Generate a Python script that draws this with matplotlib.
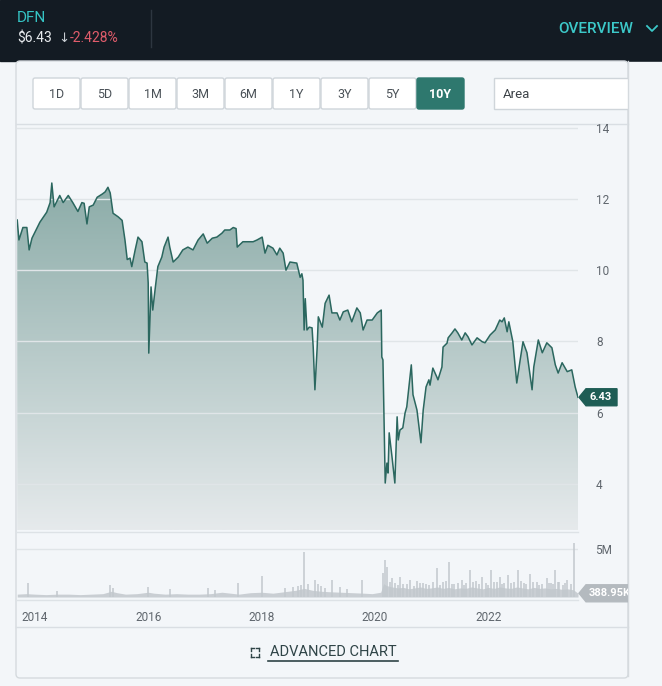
import matplotlib.pyplot as plt
import numpy as np
from matplotlib.colors import LinearSegmentedColormap
from matplotlib.patches import FancyBboxPatch, Polygon, Rectangle

W, H = 662, 686

# Daily close (decimal year, USD).
price_years = [
    2013.69, 2013.72, 2013.79, 2013.86, 2013.90, 2013.95, 2014.09, 2014.21, 2014.27, 2014.30,
    2014.34, 2014.44, 2014.50, 2014.59, 2014.67, 2014.76, 2014.83, 2014.87, 2014.92, 2014.96,
    2015.03, 2015.10, 2015.19, 2015.24, 2015.29, 2015.33, 2015.38, 2015.47, 2015.54, 2015.59,
    2015.63, 2015.68, 2015.71, 2015.77, 2015.82, 2015.89, 2015.94, 2015.98, 2016.00, 2016.01,
    2016.05, 2016.08, 2016.12, 2016.17, 2016.24, 2016.28, 2016.35, 2016.38, 2016.44, 2016.53,
    2016.61, 2016.70, 2016.79, 2016.88, 2016.97, 2017.04, 2017.13, 2017.21, 2017.30, 2017.35,
    2017.44, 2017.50, 2017.55, 2017.57, 2017.67, 2017.76, 2017.85, 2017.92, 2018.01, 2018.06,
    2018.11, 2018.20, 2018.27, 2018.32, 2018.38, 2018.43, 2018.50, 2018.62, 2018.68, 2018.71,
    2018.73, 2018.75, 2018.77, 2018.80, 2018.84, 2018.89, 2018.91, 2018.94, 2018.98, 2019.00,
    2019.07, 2019.12, 2019.19, 2019.24, 2019.33, 2019.38, 2019.44, 2019.52, 2019.59, 2019.68,
    2019.74, 2019.79, 2019.86, 2019.95, 2020.04, 2020.11, 2020.12, 2020.14, 2020.18, 2020.21,
    2020.23, 2020.25, 2020.30, 2020.35, 2020.39, 2020.41, 2020.44, 2020.49, 2020.53, 2020.56,
    2020.64, 2020.67, 2020.74, 2020.81, 2020.85, 2020.90, 2020.95, 2020.97, 2021.02, 2021.09,
    2021.11, 2021.18, 2021.20, 2021.27, 2021.29, 2021.36, 2021.41, 2021.46, 2021.53, 2021.59,
    2021.64, 2021.71, 2021.80, 2021.89, 2021.94, 2022.03, 2022.12, 2022.20, 2022.24, 2022.28,
    2022.33, 2022.36, 2022.43, 2022.50, 2022.56, 2022.61, 2022.68, 2022.77, 2022.80, 2022.88,
    2022.95, 2023.03, 2023.12, 2023.18, 2023.23, 2023.30, 2023.39, 2023.47, 2023.53, 2023.58,
]
price_values = [
    11.41, 10.85, 11.20, 11.20, 10.57, 10.90, 11.35, 11.63, 11.90, 12.45,
    11.78, 12.10, 11.90, 12.10, 11.90, 11.65, 11.90, 11.88, 11.30, 11.78,
    11.83, 12.05, 12.14, 12.20, 12.33, 12.17, 11.60, 11.50, 11.40, 10.85,
    10.30, 10.34, 10.10, 10.57, 10.93, 10.80, 10.23, 10.20, 9.64, 7.67,
    9.53, 8.88, 9.44, 10.10, 10.37, 10.65, 10.93, 10.65, 10.23, 10.37,
    10.57, 10.65, 10.57, 10.85, 11.02, 10.76, 10.90, 10.93, 11.04, 11.13,
    11.13, 11.20, 11.17, 10.65, 10.80, 10.80, 10.80, 10.85, 10.93, 10.48,
    10.70, 10.62, 10.43, 10.62, 10.48, 10.00, 10.23, 10.20, 9.80, 9.90,
    9.72, 8.32, 9.20, 8.32, 8.40, 8.38, 7.84, 6.64, 7.84, 8.69,
    8.40, 9.07, 9.30, 8.80, 8.80, 8.60, 8.83, 8.88, 8.55, 8.94,
    8.80, 8.32, 8.60, 8.60, 8.80, 8.88, 7.56, 7.48, 4.02, 4.58,
    4.30, 5.43, 4.75, 4.02, 5.88, 5.23, 5.51, 5.57, 5.99, 6.16,
    7.34, 6.50, 6.07, 5.15, 6.07, 6.72, 6.92, 6.77, 7.25, 7.00,
    6.92, 7.28, 7.84, 7.95, 8.10, 8.24, 8.35, 8.24, 8.04, 8.24,
    8.13, 7.90, 8.10, 7.99, 7.96, 8.18, 8.32, 8.60, 8.55, 8.66,
    8.27, 8.55, 8.00, 6.83, 7.48, 7.99, 7.68, 6.64, 7.28, 8.04,
    7.68, 7.96, 7.82, 7.34, 7.11, 7.40, 7.15, 7.20, 6.72, 6.43,
]

# Volume (millions of shares): background level plus the visible spikes.
vol_base_years = [
    2013.69, 2013.85, 2014.0, 2014.2, 2014.4, 2014.6, 2014.8, 2015.0, 2015.2, 2015.35,
    2015.45, 2015.6, 2015.8, 2016.0, 2016.1, 2016.3, 2016.5, 2016.7, 2016.9, 2017.1,
    2017.3, 2017.45, 2017.6, 2017.8, 2018.0, 2018.2, 2018.4, 2018.6, 2018.75, 2018.9,
    2019.05, 2019.2, 2019.4, 2019.6, 2019.8, 2019.95, 2020.1, 2020.15, 2020.2, 2020.3,
    2020.4, 2020.5, 2020.6, 2020.7, 2020.8, 2020.9, 2021.0, 2021.1, 2021.2, 2021.3,
    2021.4, 2021.5, 2021.6, 2021.7, 2021.8, 2021.9, 2022.0, 2022.1, 2022.2, 2022.3,
    2022.4, 2022.5, 2022.6, 2022.7, 2022.8, 2022.9, 2023.0, 2023.1, 2023.2, 2023.3,
    2023.4, 2023.5, 2023.58,
]
vol_base = [
    0.30, 0.35, 0.30, 0.25, 0.30, 0.30, 0.25, 0.30, 0.35, 0.60,
    0.45, 0.30, 0.35, 0.50, 0.40, 0.30, 0.35, 0.30, 0.30, 0.35,
    0.50, 0.40, 0.30, 0.45, 0.50, 0.40, 0.55, 0.70, 0.90, 0.70,
    0.60, 0.55, 0.50, 0.45, 0.40, 0.35, 0.50, 1.40, 1.20, 1.05,
    0.95, 1.00, 0.85, 0.95, 1.05, 0.90, 0.95, 1.05, 0.90, 1.00,
    0.85, 0.95, 0.90, 1.05, 0.95, 0.85, 1.00, 0.90, 1.05, 0.95,
    0.90, 1.05, 0.95, 0.85, 1.00, 0.90, 0.95, 0.85, 0.90, 0.80,
    0.85, 0.75, 0.39,
]
spike_years = [
    2013.88, 2014.39, 2015.33, 2015.38, 2016.00, 2016.38, 2017.05, 2017.18, 2017.58, 2018.01,
    2018.41, 2018.64, 2018.75, 2018.82, 2018.94, 2018.99, 2019.24, 2019.38, 2019.77, 2020.14,
    2020.18, 2020.21, 2020.30, 2020.44, 2020.50, 2020.62, 2020.74, 2020.85, 2020.95, 2021.09,
    2021.20, 2021.30, 2021.40, 2021.53, 2021.60, 2021.68, 2021.78, 2021.89, 2022.05, 2022.10,
    2022.20, 2022.28, 2022.35, 2022.45, 2022.52, 2022.62, 2022.73, 2022.85, 2022.95, 2023.03,
    2023.10, 2023.18, 2023.25, 2023.39, 2023.45, 2023.51,
    2018.55, 2018.70, 2019.05, 2019.12, 2019.50, 2020.26, 2020.35, 2020.40, 2020.56, 2020.68,
    2020.80, 2020.90, 2021.02, 2021.14, 2021.25, 2021.35, 2021.46, 2021.57, 2021.73, 2021.84,
    2021.95, 2022.00, 2022.15, 2022.24, 2022.40, 2022.57, 2022.67, 2022.79, 2022.90, 2023.07,
    2023.14, 2023.22, 2023.31, 2023.35,
]
spike_vols = [
    1.45, 0.60, 1.25, 0.90, 1.00, 0.80, 0.90, 0.70, 1.45, 2.20,
    0.90, 1.20, 4.70, 1.40, 1.80, 1.40, 1.80, 1.00, 1.80, 2.50,
    3.85, 3.10, 2.00, 2.10, 1.40, 1.80, 1.70, 1.50, 1.30, 3.00,
    1.60, 3.60, 1.40, 1.80, 1.50, 2.80, 1.70, 2.10, 2.80, 1.60,
    2.10, 1.50, 2.30, 1.60, 2.80, 1.50, 2.40, 1.60, 1.40, 2.00,
    1.50, 2.80, 1.60, 1.80, 1.40, 5.60,
    1.00, 1.30, 1.10, 0.90, 0.80, 1.60, 1.50, 1.30, 1.40, 1.20,
    1.50, 1.40, 1.60, 1.30, 1.70, 1.40, 1.50, 1.30, 1.60, 1.40,
    1.50, 1.30, 1.60, 1.40, 1.50, 1.70, 1.40, 1.60, 1.30, 1.50,
    1.40, 1.60, 1.30, 1.50,
]

year_ticks = [2014, 2016, 2018, 2020, 2022]
price_ticks = [4, 6, 8, 10, 12, 14]
range_buttons = ["1D", "5D", "1M", "3M", "6M", "1Y", "3Y", "5Y", "10Y"]
active_range = "10Y"
ticker_name = "DFN"
last_price = "$6.43"
change_text = "-2.428%"
last_volume = "388.95K"

plt.rcParams["font.family"] = ["Roboto", "DejaVu Sans"]

BG = "#f3f6f9"
LINE = "#2b675f"
TEAL = "#2e786e"
GRID = "#e0e5e8"
TICK = "#5f666d"


def rect(x0, y0, x1, y1):
    """Pixel box (top-left origin) -> figure fraction rect."""
    return [x0 / W, 1 - y1 / H, (x1 - x0) / W, (y1 - y0) / H]


fig = plt.figure(figsize=(W / 100, H / 100), dpi=100, facecolor=BG)

# Background layer in pixel coordinates.
bg = fig.add_axes([0, 0, 1, 1], zorder=0)
bg.set_xlim(0, W)
bg.set_ylim(H, 0)
bg.axis("off")

bg.add_patch(Rectangle((0, 0), W, 61, color="#131b23"))
bg.plot([151, 151], [10, 47], color="#2d3640", lw=1)
bg.text(17, 18, ticker_name, color="#35c4c4", fontsize=11, va="center")
bg.text(17, 38, last_price, color="#e9ecef", fontsize=10, va="center")
bg.text(58, 38, "\u2193", color="#c9ced3", fontsize=9.5, va="center",
        family=["DejaVu Sans"])
bg.text(70, 38, change_text, color="#e05c6b", fontsize=10, va="center")
bg.text(633, 29, "OVERVIEW", color="#3cc9c9", fontsize=11, va="center",
        ha="right", weight="medium")
bg.plot([647, 652, 657], [26, 31, 26], color="#3cc9c9", lw=1.3)

# Panel frame.
bg.add_patch(FancyBboxPatch((16, 61), 612, 617, boxstyle="round,pad=0,rounding_size=4",
                            facecolor=BG, edgecolor="#d5dade", lw=1))
bg.plot([16, 628], [124, 124], color="#d9dee3", lw=1)
bg.plot([17, 578], [532, 532], color="#dde2e6", lw=1)
bg.plot([17, 578], [600, 600], color="#dde2e6", lw=1)
bg.plot([16, 628], [627, 627], color="#d9dee3", lw=1)

# Range buttons.
for i, label in enumerate(range_buttons):
    x0 = 33 + i * 48
    active = label == active_range
    bg.add_patch(FancyBboxPatch((x0, 78), 47, 31, boxstyle="round,pad=0,rounding_size=2",
                                facecolor=TEAL if active else "white",
                                edgecolor=TEAL if active else "#cfd5da", lw=1))
    bg.text(x0 + 23.5, 94, label, ha="center", va="center", fontsize=9,
            color="white" if active else "#4a5157", weight="bold" if active else "normal")
bg.add_patch(Rectangle((494, 78), 140, 31, facecolor="white", edgecolor="#cfd5da", lw=1))
bg.add_patch(Rectangle((629, 62), 33, 624, color=BG))
bg.plot([628, 628], [61, 676], color="#d5dade", lw=1)
bg.text(503, 94, "Area", va="center", fontsize=9.5, color="#3d4348")

# Advanced chart link.
bg.text(333, 652, "ADVANCED CHART", ha="center", va="center", fontsize=10.5,
        color="#2f4447")
bg.plot([268, 398], [661, 661], color="#2f4447", lw=1.2)
for cx, cy, dx, dy in [(251, 648, 1, 1), (259, 648, -1, 1), (251, 657, 1, -1), (259, 657, -1, -1)]:
    bg.plot([cx, cx + 3 * dx], [cy, cy], color="#2f4447", lw=1)
    bg.plot([cx, cx], [cy, cy + 3 * dy], color="#2f4447", lw=1)

# Price panel.
ax = fig.add_axes(rect(17, 125, 578, 530), zorder=1)
ax.set_facecolor("none")
x_lo, x_hi = 2013.686, 2023.58
y_lo, y_hi = 2.70, 14.08
ax.set_xlim(x_lo, x_hi)
ax.set_ylim(y_lo, y_hi)

cmap = LinearSegmentedColormap.from_list("area", ["#8aaba7", "#e6eaec"])
area = Polygon(list(zip(price_years, price_values))
               + [(price_years[-1], y_lo), (price_years[0], y_lo)],
               closed=True, facecolor="none", edgecolor="none")
ax.add_patch(area)
grad = np.linspace(0, 1, 256).reshape(-1, 1)
img = ax.imshow(grad, extent=[x_lo, x_hi, y_lo, 12.6], aspect="auto", cmap=cmap,
                origin="upper", zorder=1)
img.set_clip_path(area)
ax.set_ylim(y_lo, y_hi)
ax.plot(price_years, price_values, color=LINE, lw=1.1, zorder=3)

ax.set_yticks(price_ticks)
ax.set_axisbelow(False)
ax.grid(axis="y", color=GRID, lw=1, zorder=2)
ax.yaxis.tick_right()
ax.tick_params(axis="y", length=0, pad=13, labelsize=8.5, labelcolor=TICK)
ax.tick_params(axis="x", bottom=False, labelbottom=False)
for s in ax.spines.values():
    s.set_visible(False)

# Volume panel.
vx = fig.add_axes(rect(17, 533, 578, 600), zorder=1)
vx.set_facecolor("none")
vx.set_xlim(x_lo, x_hi)
vx.set_ylim(-0.31, 6.67)
vx.fill_between(vol_base_years, 0, vol_base, color="#c9ced3", lw=0)
vx.vlines(spike_years, 0, spike_vols, color="#c2c8cd", lw=1.1)
vx.set_yticks([5])
vx.set_yticklabels(["5M"])
vx.grid(axis="y", color=GRID, lw=1)
vx.set_axisbelow(True)
vx.yaxis.tick_right()
vx.tick_params(axis="y", length=0, pad=12, labelsize=8.5, labelcolor=TICK)
vx.set_xticks(year_ticks)
vx.set_xticklabels([str(y) for y in year_ticks])
vx.tick_params(axis="x", length=0, pad=8, labelsize=8.5, labelcolor=TICK)
for s in vx.spines.values():
    s.set_visible(False)

# Last-value tags, clipped at the panel's right edge.
fg = fig.add_axes(rect(0, 0, 628, H), zorder=3)
fg.set_xlim(0, 628)
fg.set_ylim(H, 0)
fg.axis("off")
fig.canvas.draw()


def to_px(axes, x, y):
    _, py = axes.transData.transform((x, y))
    return H - py


py = to_px(ax, price_years[-1], price_values[-1])
fg.add_patch(Polygon([(579, py), (586, py - 8.5), (617, py - 8.5), (617, py + 8.5),
                      (586, py + 8.5)], closed=True, color="#1e5d55"))
fg.text(601, py, f"{price_values[-1]:.2f}", ha="center", va="center", color="white",
        fontsize=8, weight="bold")

vy = to_px(vx, vol_base_years[-1], vol_base[-1])
fg.add_patch(Polygon([(579, vy), (586, vy - 8.5), (640, vy - 8.5), (640, vy + 8.5),
                      (586, vy + 8.5)], closed=True, color="#b4babf", clip_on=True))
fg.text(589, vy, last_volume, ha="left", va="center", color="white", fontsize=8,
        weight="bold", clip_on=True)

fig.savefig("out.png", dpi=100, facecolor=BG)
